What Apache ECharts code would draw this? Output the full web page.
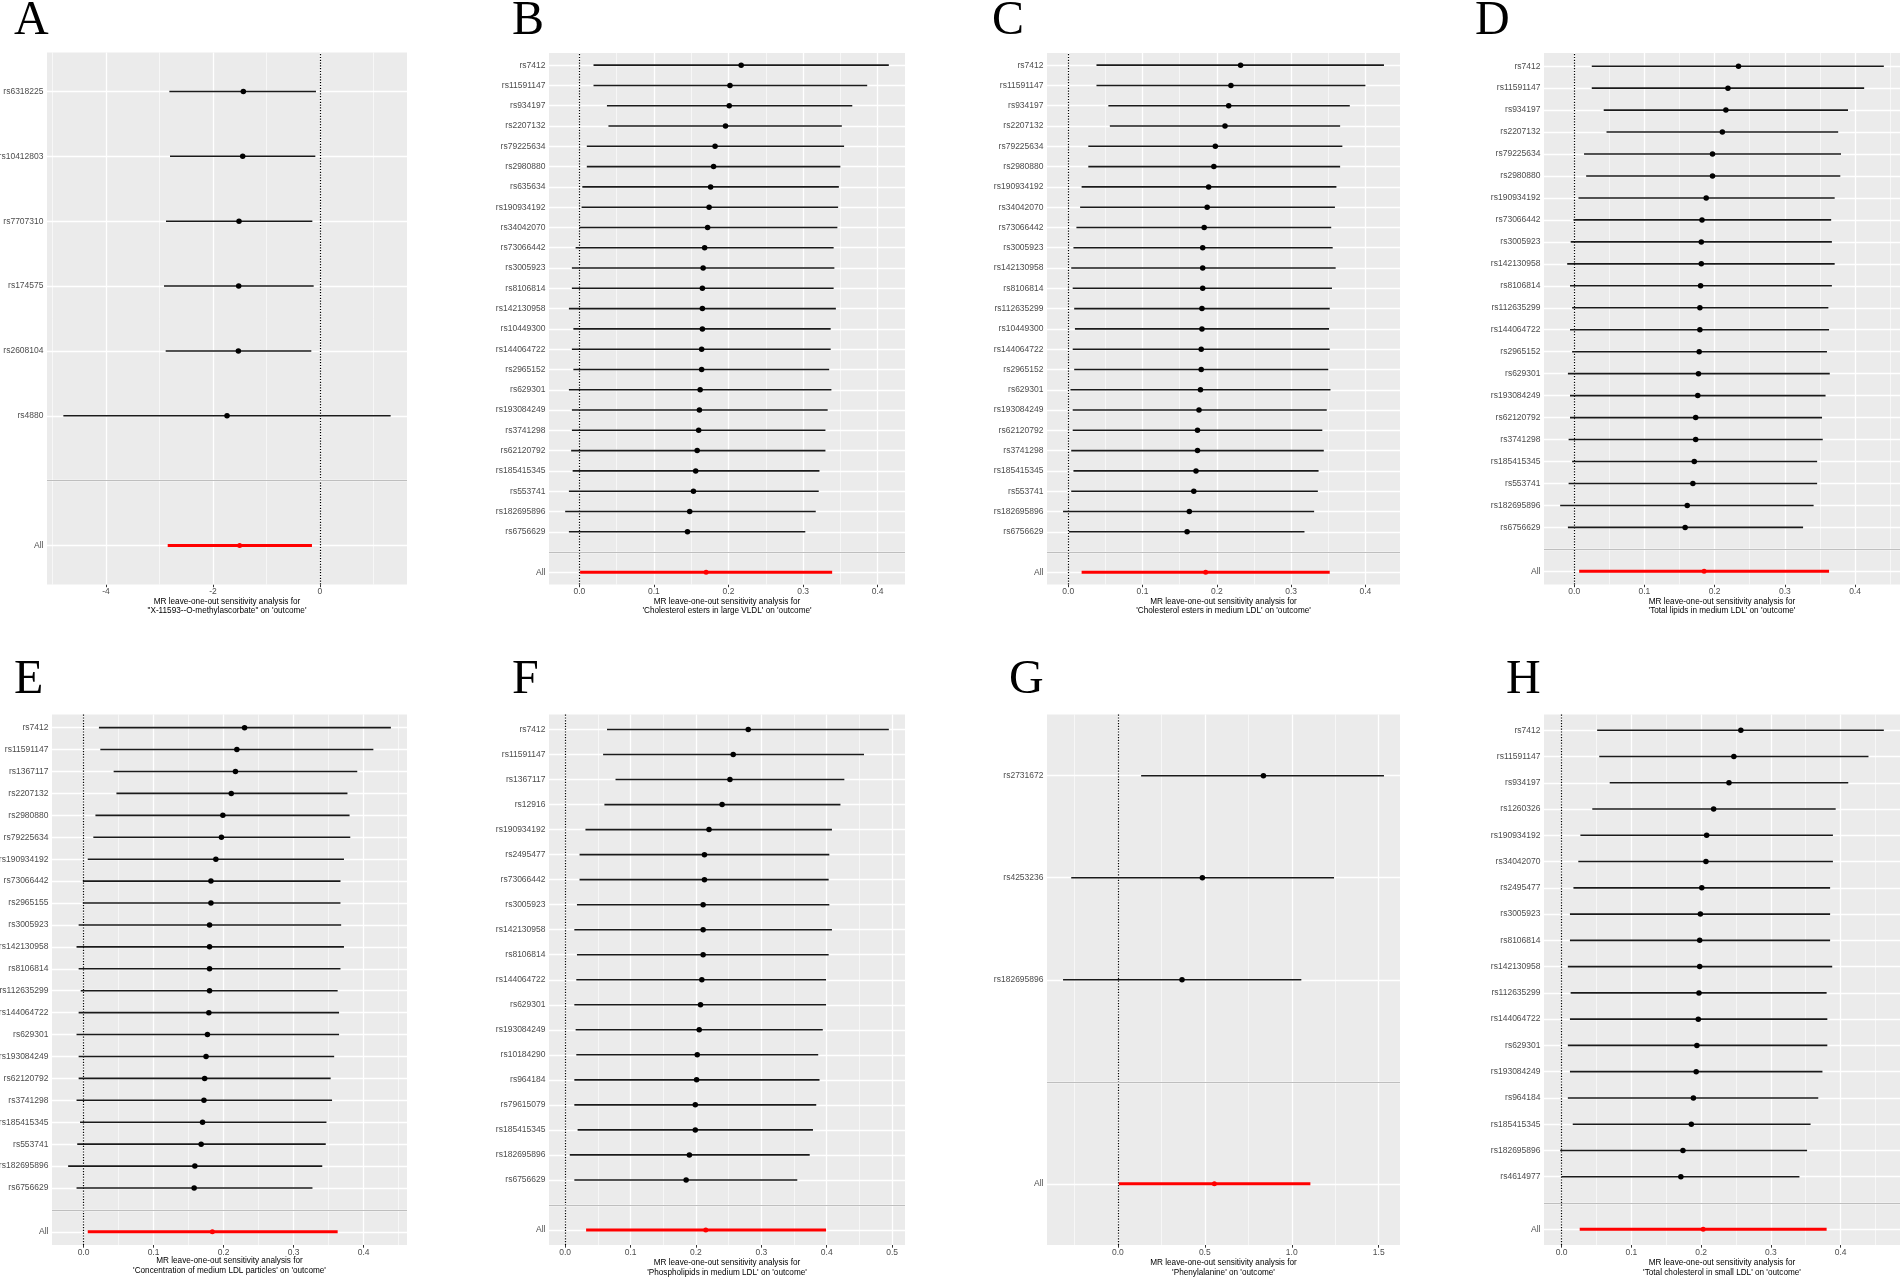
<!DOCTYPE html>
<html>
<head>
<meta charset="utf-8">
<script src="https://cdn.jsdelivr.net/npm/echarts@6/dist/echarts.min.js"></script>
<style>
  html, body { margin: 0; padding: 0; background: #fff; }
  #chart { width: 1901px; height: 1279px; }
</style>
</head>
<body>
<div id="chart"></div>
<script>
// ---- panel A ----
const snpsA = ['rs6318225', 'rs10412803', 'rs7707310', 'rs174575', 'rs2608104', 'rs4880']
const bA = [-1.433, -1.445, -1.514, -1.520, -1.526, -1.738]
const loA = [-2.816, -2.804, -2.879, -2.916, -2.885, -4.798]
const hiA = [-0.075, -0.087, -0.143, -0.118, -0.162, 1.321]
const allA = [-2.847, -1.502, -0.150]
const ticksA = [-4, -2, 0]
const tickLabelsA = ['-4', '-2', '0']
const exposureA = '"X-11593--O-methylascorbate" on \'outcome\''

// ---- panel B ----
const snpsB = ['rs7412', 'rs11591147', 'rs934197', 'rs2207132', 'rs79225634', 'rs2980880', 'rs635634', 'rs190934192',
  'rs34042070', 'rs73066442', 'rs3005923', 'rs8106814', 'rs142130958', 'rs10449300', 'rs144064722', 'rs2965152',
  'rs629301', 'rs193084249', 'rs3741298', 'rs62120792', 'rs185415345', 'rs553741', 'rs182695896', 'rs6756629']
const bB = [0.217, 0.202, 0.201, 0.196, 0.182, 0.180, 0.176, 0.174, 0.172, 0.168, 0.166, 0.165, 0.165, 0.165, 0.164, 0.164,
  0.162, 0.161, 0.160, 0.158, 0.156, 0.153, 0.148, 0.145]
const loB = [0.019, 0.019, 0.037, 0.039, 0.010, 0.010, 0.004, 0.003, 0.000, -0.005, -0.010, -0.010, -0.014, -0.008, -0.010, -0.008,
  -0.014, -0.010, -0.010, -0.011, -0.009, -0.014, -0.019, -0.014]
const hiB = [0.415, 0.386, 0.366, 0.352, 0.355, 0.350, 0.348, 0.347, 0.346, 0.341, 0.342, 0.341, 0.344, 0.337, 0.337, 0.335,
  0.338, 0.333, 0.330, 0.330, 0.322, 0.321, 0.317, 0.303]
const allB = [0.001, 0.170, 0.339]
const ticksB = [0, 0.1, 0.2, 0.3, 0.4]
const tickLabelsB = ['0.0', '0.1', '0.2', '0.3', '0.4']
const exposureB = '\'Cholesterol esters in large VLDL\' on \'outcome\''

// ---- panel C ----
const snpsC = ['rs7412', 'rs11591147', 'rs934197', 'rs2207132', 'rs79225634', 'rs2980880', 'rs190934192', 'rs34042070',
  'rs73066442', 'rs3005923', 'rs142130958', 'rs8106814', 'rs112635299', 'rs10449300', 'rs144064722', 'rs2965152',
  'rs629301', 'rs193084249', 'rs62120792', 'rs3741298', 'rs185415345', 'rs553741', 'rs182695896', 'rs6756629']
const bC = [0.232, 0.219, 0.216, 0.211, 0.198, 0.196, 0.189, 0.187, 0.183, 0.181, 0.181, 0.181, 0.180, 0.180, 0.179, 0.179,
  0.178, 0.176, 0.174, 0.174, 0.172, 0.169, 0.163, 0.160]
const loC = [0.038, 0.038, 0.054, 0.056, 0.027, 0.027, 0.018, 0.016, 0.011, 0.007, 0.004, 0.006, 0.008, 0.009, 0.006, 0.008,
  0.003, 0.006, 0.006, 0.004, 0.007, 0.004, -0.007, 0.001]
const hiC = [0.425, 0.400, 0.379, 0.366, 0.369, 0.366, 0.361, 0.359, 0.354, 0.356, 0.360, 0.355, 0.352, 0.351, 0.352, 0.350,
  0.353, 0.348, 0.342, 0.344, 0.337, 0.336, 0.331, 0.318]
const allC = [0.018, 0.185, 0.352]
const ticksC = [0, 0.1, 0.2, 0.3, 0.4]
const tickLabelsC = ['0.0', '0.1', '0.2', '0.3', '0.4']
const exposureC = '\'Cholesterol esters in medium LDL\' on \'outcome\''

// ---- panel D ----
const snpsD = ['rs7412', 'rs11591147', 'rs934197', 'rs2207132', 'rs79225634', 'rs2980880', 'rs190934192', 'rs73066442',
  'rs3005923', 'rs142130958', 'rs8106814', 'rs112635299', 'rs144064722', 'rs2965152', 'rs629301', 'rs193084249',
  'rs62120792', 'rs3741298', 'rs185415345', 'rs553741', 'rs182695896', 'rs6756629']
const bD = [0.234, 0.219, 0.216, 0.211, 0.197, 0.197, 0.188, 0.182, 0.181, 0.181, 0.180, 0.179, 0.179, 0.178, 0.177, 0.176,
  0.173, 0.173, 0.171, 0.169, 0.161, 0.158]
const loD = [0.025, 0.025, 0.042, 0.046, 0.014, 0.017, 0.006, -0.001, -0.005, -0.010, -0.006, -0.003, -0.006, -0.003, -0.009, -0.006,
  -0.006, -0.008, -0.003, -0.008, -0.020, -0.009]
const hiD = [0.441, 0.413, 0.390, 0.376, 0.380, 0.379, 0.371, 0.366, 0.367, 0.371, 0.367, 0.362, 0.363, 0.360, 0.364, 0.358,
  0.353, 0.354, 0.346, 0.346, 0.341, 0.326]
const allD = [0.007, 0.185, 0.363]
const ticksD = [0, 0.1, 0.2, 0.3, 0.4]
const tickLabelsD = ['0.0', '0.1', '0.2', '0.3', '0.4']
const exposureD = '\'Total lipids in medium LDL\' on \'outcome\''

// ---- panel E ----
const snpsE = ['rs7412', 'rs11591147', 'rs1367117', 'rs2207132', 'rs2980880', 'rs79225634', 'rs190934192', 'rs73066442',
  'rs2965155', 'rs3005923', 'rs142130958', 'rs8106814', 'rs112635299', 'rs144064722', 'rs629301', 'rs193084249',
  'rs62120792', 'rs3741298', 'rs185415345', 'rs553741', 'rs182695896', 'rs6756629']
const bE = [0.230, 0.219, 0.217, 0.211, 0.199, 0.197, 0.189, 0.182, 0.182, 0.180, 0.180, 0.180, 0.180, 0.179, 0.177, 0.175,
  0.173, 0.172, 0.170, 0.168, 0.159, 0.158]
const loE = [0.022, 0.024, 0.043, 0.047, 0.017, 0.014, 0.006, -0.001, -0.001, -0.007, -0.010, -0.007, -0.004, -0.007, -0.010, -0.007,
  -0.007, -0.010, -0.005, -0.009, -0.022, -0.010]
const hiE = [0.439, 0.414, 0.391, 0.377, 0.380, 0.381, 0.372, 0.367, 0.367, 0.368, 0.372, 0.367, 0.363, 0.365, 0.365, 0.358,
  0.353, 0.355, 0.347, 0.346, 0.341, 0.327]
const allE = [0.006, 0.184, 0.363]
const ticksE = [0, 0.1, 0.2, 0.3, 0.4]
const tickLabelsE = ['0.0', '0.1', '0.2', '0.3', '0.4']
const exposureE = '\'Concentration of medium LDL particles\' on \'outcome\''

// ---- panel F ----
const snpsF = ['rs7412', 'rs11591147', 'rs1367117', 'rs12916', 'rs190934192', 'rs2495477', 'rs73066442', 'rs3005923',
  'rs142130958', 'rs8106814', 'rs144064722', 'rs629301', 'rs193084249', 'rs10184290', 'rs964184', 'rs79615079',
  'rs185415345', 'rs182695896', 'rs6756629']
const bF = [0.280, 0.257, 0.252, 0.240, 0.220, 0.213, 0.213, 0.211, 0.211, 0.211, 0.209, 0.207, 0.205, 0.202, 0.201, 0.199,
  0.199, 0.190, 0.185]
const loF = [0.064, 0.058, 0.077, 0.060, 0.031, 0.022, 0.022, 0.018, 0.014, 0.018, 0.017, 0.014, 0.016, 0.017, 0.014, 0.014,
  0.019, 0.007, 0.014]
const hiF = [0.495, 0.457, 0.427, 0.421, 0.408, 0.404, 0.403, 0.404, 0.408, 0.403, 0.399, 0.399, 0.394, 0.387, 0.389, 0.384,
  0.379, 0.374, 0.355]
const allF = [0.032, 0.215, 0.399]
const ticksF = [0, 0.1, 0.2, 0.3, 0.4, 0.5]
const tickLabelsF = ['0.0', '0.1', '0.2', '0.3', '0.4', '0.5']
const exposureF = '\'Phospholipids in medium LDL\' on \'outcome\''

// ---- panel G ----
const snpsG = ['rs2731672', 'rs4253236', 'rs182695896']
const bG = [0.837, 0.486, 0.369]
const loG = [0.134, -0.268, -0.315]
const hiG = [1.530, 1.243, 1.055]
const allG = [0.006, 0.555, 1.107]
const ticksG = [0, 0.5, 1, 1.5]
const tickLabelsG = ['0.0', '0.5', '1.0', '1.5']
const exposureG = '\'Phenylalanine\' on \'outcome\''

// ---- panel H ----
const snpsH = ['rs7412', 'rs11591147', 'rs934197', 'rs1260326', 'rs190934192', 'rs34042070', 'rs2495477', 'rs3005923',
  'rs8106814', 'rs142130958', 'rs112635299', 'rs144064722', 'rs629301', 'rs193084249', 'rs964184', 'rs185415345',
  'rs182695896', 'rs4614977']
const bH = [0.257, 0.247, 0.240, 0.218, 0.208, 0.207, 0.201, 0.199, 0.198, 0.198, 0.197, 0.196, 0.194, 0.193, 0.189, 0.186,
  0.174, 0.171]
const loH = [0.051, 0.054, 0.069, 0.044, 0.027, 0.024, 0.017, 0.012, 0.012, 0.009, 0.013, 0.012, 0.009, 0.012, 0.009, 0.016,
  -0.002, 0.000]
const hiH = [0.462, 0.440, 0.411, 0.393, 0.389, 0.389, 0.385, 0.385, 0.385, 0.388, 0.380, 0.381, 0.381, 0.374, 0.368, 0.357,
  0.352, 0.341]
const allH = [0.026, 0.203, 0.380]
const ticksH = [0, 0.1, 0.2, 0.3, 0.4]
const tickLabelsH = ['0.0', '0.1', '0.2', '0.3', '0.4']
const exposureH = '\'Total cholesterol in small LDL\' on \'outcome\''

const panels = [
  { key: 'A', snps: snpsA, b: bA, lo: loA, hi: hiA, all: allA, ticks: ticksA, tickLabels: tickLabelsA, exposure: exposureA },
  { key: 'B', snps: snpsB, b: bB, lo: loB, hi: hiB, all: allB, ticks: ticksB, tickLabels: tickLabelsB, exposure: exposureB },
  { key: 'C', snps: snpsC, b: bC, lo: loC, hi: hiC, all: allC, ticks: ticksC, tickLabels: tickLabelsC, exposure: exposureC },
  { key: 'D', snps: snpsD, b: bD, lo: loD, hi: hiD, all: allD, ticks: ticksD, tickLabels: tickLabelsD, exposure: exposureD },
  { key: 'E', snps: snpsE, b: bE, lo: loE, hi: hiE, all: allE, ticks: ticksE, tickLabels: tickLabelsE, exposure: exposureE },
  { key: 'F', snps: snpsF, b: bF, lo: loF, hi: hiF, all: allF, ticks: ticksF, tickLabels: tickLabelsF, exposure: exposureF },
  { key: 'G', snps: snpsG, b: bG, lo: loG, hi: hiG, all: allG, ticks: ticksG, tickLabels: tickLabelsG, exposure: exposureG },
  { key: 'H', snps: snpsH, b: bH, lo: loH, hi: hiH, all: allH, ticks: ticksH, tickLabels: tickLabelsH, exposure: exposureH }
]

// pixel layout of each panel
const layout = {
  A: { left: 47, top: 52.5, width: 360, height: 532, titleY: 597, letterX: 14, letterY: 21 },
  B: { left: 549, top: 53, width: 356, height: 531.5, titleY: 597, letterX: 512, letterY: 21 },
  C: { left: 1047, top: 53, width: 353, height: 531.5, titleY: 597, letterX: 992, letterY: 21 },
  D: { left: 1544, top: 53, width: 356, height: 531.5, titleY: 597, letterX: 1475, letterY: 21 },
  E: { left: 52, top: 714.5, width: 355, height: 530.5, titleY: 1256.5, letterX: 14, letterY: 680 },
  F: { left: 549, top: 714.5, width: 356, height: 530.5, titleY: 1258.5, letterX: 512, letterY: 680 },
  G: { left: 1047, top: 714.5, width: 353, height: 530.5, titleY: 1258.5, letterX: 1009, letterY: 680 },
  H: { left: 1544, top: 714.5, width: 356, height: 530.5, titleY: 1258.5, letterX: 1506, letterY: 680 }
}

const FONT = 'Liberation Sans'

function minorBreaks(ticks, min, max) {
  const step = ticks[1] - ticks[0]
  const out = []
  for (let k = -1; k < ticks.length; k++) {
    const m = ticks[0] + (k + 0.5) * step
    if (m > min && m < max) out.push(m)
  }
  return out
}

function tickText(p, v) {
  const idx = p.ticks.findIndex(t => Math.abs(t - v) < 1e-9)
  return idx >= 0 ? p.tickLabels[idx] : ''
}

// plain markLine holder (an empty scatter series carrying reference lines)
function lineLayer(i, z, lines, lineStyle) {
  return {
    type: 'scatter', xAxisIndex: i, yAxisIndex: i, data: [], silent: true, z: z,
    markLine: {
      z: z, silent: true, animation: false, symbol: ['none', 'none'],
      label: { show: false }, emphasis: { disabled: true },
      lineStyle: lineStyle, data: lines
    }
  }
}

const grid = [], xAxis = [], yAxis = [], series = [], graphic = []

panels.forEach((p, i) => {
  const L = layout[p.key]
  const n = p.snps.length + 2
  // bottom-up: All, blank, then SNPs (smallest effect lowest)
  const cats = ['All', ''].concat(p.snps.slice().reverse())
  const rowVals = []
  for (let r = 1; r <= n; r++) if (r !== 2) rowVals.push(r)

  let xmin = Math.min(0, p.all[0], ...p.lo)
  let xmax = Math.max(0, p.all[2], ...p.hi)
  const pad = (xmax - xmin) * 0.05
  xmin -= pad
  xmax += pad

  grid.push({
    left: L.left, top: L.top, width: L.width, height: L.height,
    show: true, backgroundColor: '#EBEBEB', borderWidth: 0,
    containLabel: false, outerBoundsMode: 'none'
  })

  xAxis.push({
    type: 'value', gridIndex: i, min: xmin, max: xmax,
    axisLine: { show: false },
    splitLine: { show: false },
    axisTick: { show: true, customValues: p.ticks, length: 2.7, lineStyle: { color: '#333333', width: 1 } },
    axisLabel: {
      customValues: p.ticks, margin: 3, color: '#4D4D4D', fontSize: 8.5, fontFamily: FONT,
      formatter: v => tickText(p, v)
    }
  })

  yAxis.push({
    type: 'value', gridIndex: i, min: 0.4, max: n + 0.6,
    axisLine: { show: false },
    splitLine: { show: false },
    axisTick: { show: true, customValues: rowVals, length: 2.7, lineStyle: { color: '#333333', width: 1 } },
    axisLabel: {
      customValues: rowVals, margin: 3.5, color: '#4D4D4D', fontSize: 8.5, fontFamily: FONT,
      formatter: v => cats[Math.round(v) - 1] || ''
    }
  })

  // white panel grid
  const gridLines = []
  p.ticks.forEach(v => gridLines.push({ xAxis: v, lineStyle: { color: '#FFFFFF', width: 1.3, type: 'solid' } }))
  minorBreaks(p.ticks, xmin, xmax).forEach(v => gridLines.push({ xAxis: v, lineStyle: { color: '#FFFFFF', width: 0.6, type: 'solid' } }))
  for (let r = 1; r <= n; r++) gridLines.push({ yAxis: r, lineStyle: { color: '#FFFFFF', width: 1.4, type: 'solid' } })
  series.push(lineLayer(i, 1, gridLines, { type: 'solid', color: '#FFFFFF' }))

  // dotted zero line
  series.push(lineLayer(i, 2, [{ xAxis: 0 }], { color: '#000000', width: 1.2, type: [1.2, 1.6] }))

  // confidence intervals
  const ciData = p.snps.map((s, k) => [p.lo[k], p.hi[k], n - k, 0])
  ciData.push([p.all[0], p.all[2], 1, 1])
  series.push({
    type: 'custom', xAxisIndex: i, yAxisIndex: i, silent: true, z: 3,
    encode: { x: [0, 1], y: 2 },
    data: ciData,
    renderItem: (params, api) => {
      const a = api.coord([api.value(0), api.value(2)])
      const c = api.coord([api.value(1), api.value(2)])
      const isAll = api.value(3) === 1
      return {
        type: 'line',
        shape: { x1: a[0], y1: a[1], x2: c[0], y2: c[1] },
        style: { stroke: isAll ? '#FF0000' : '#1A1A1A', lineWidth: isAll ? 3 : 1.6 }
      }
    }
  })

  // point estimates
  const ptData = p.snps.map((s, k) => ({ value: [p.b[k], n - k], itemStyle: { color: '#000000' } }))
  ptData.push({ value: [p.all[1], 1], itemStyle: { color: '#FF0000' }, symbolSize: 5 })
  series.push({
    type: 'scatter', xAxisIndex: i, yAxisIndex: i, silent: true, z: 4,
    symbol: 'circle', symbolSize: 5.5, itemStyle: { borderWidth: 0, opacity: 1 }, data: ptData
  })

  // grey separator above the "All" row
  series.push(lineLayer(i, 6, [{ yAxis: 2 }], { color: '#BEBEBE', width: 1.2, type: 'solid' }))

  // axis title under the panel
  const titleText = 'MR leave-one-out sensitivity analysis for\n' + p.exposure
  graphic.push({
    type: 'text', x: L.left + L.width / 2, y: L.titleY, silent: true,
    style: {
      text: titleText, fill: '#000000', font: '8.2px "' + FONT + '"', lineHeight: 9.3,
      align: 'center', verticalAlign: 'top', textAlign: 'center', textVerticalAlign: 'top'
    }
  })

  // panel letter
  graphic.push({
    type: 'text', x: L.letterX, y: L.letterY, silent: true,
    style: {
      text: p.key, fill: '#000000', font: '48px "Liberation Serif"',
      align: 'left', verticalAlign: 'middle', textAlign: 'left', textVerticalAlign: 'middle'
    }
  })
})

const chart = echarts.init(document.getElementById('chart'), null, { renderer: 'canvas' })
chart.setOption({
  backgroundColor: '#FFFFFF',
  animation: false,
  grid: grid,
  xAxis: xAxis,
  yAxis: yAxis,
  series: series,
  graphic: graphic
})
</script>
</body>
</html>
